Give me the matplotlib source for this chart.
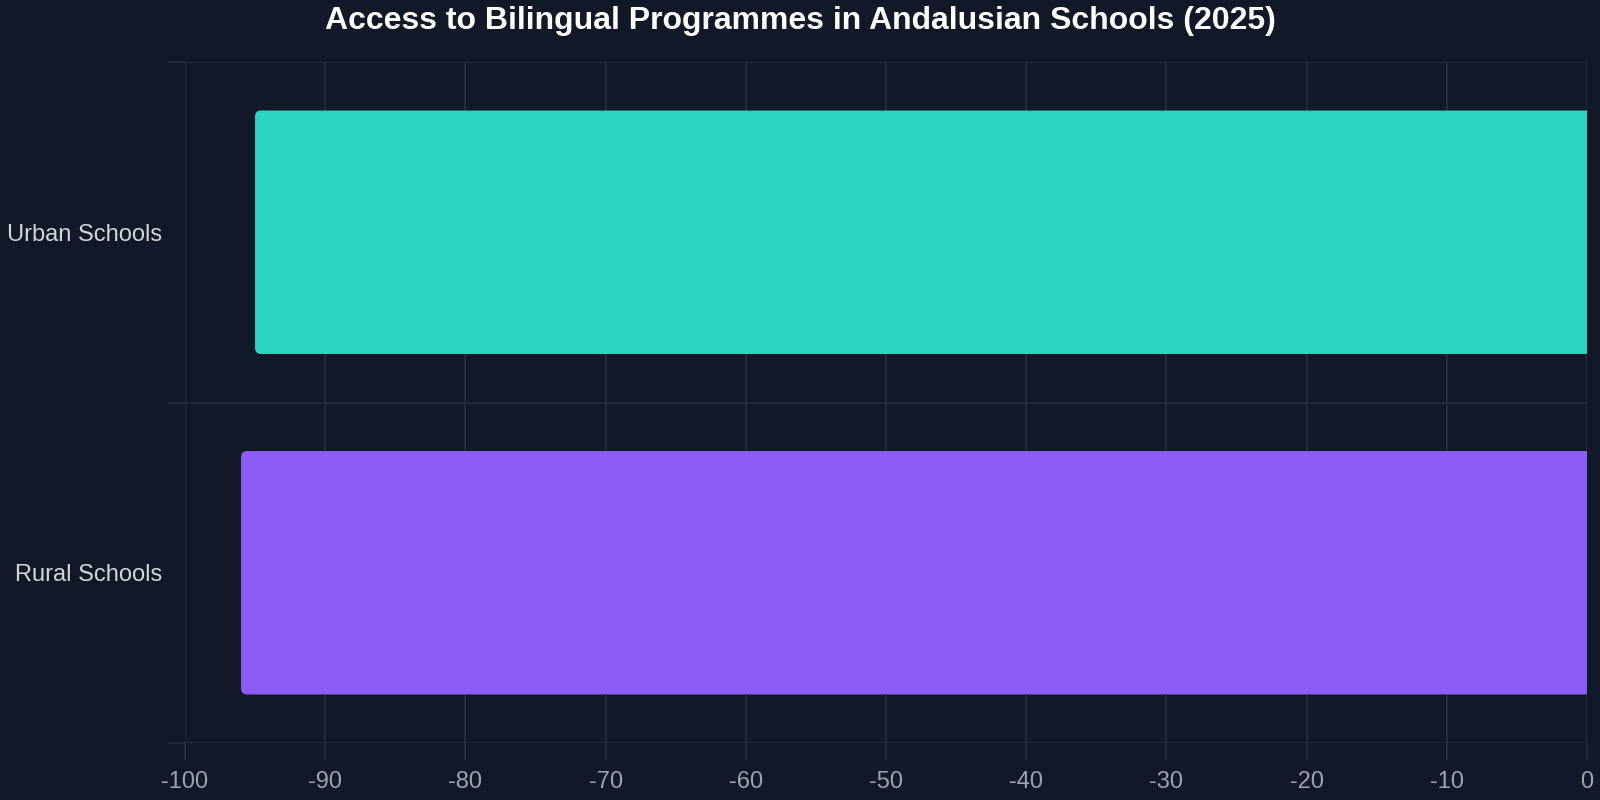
import matplotlib
matplotlib.use("Agg")
import matplotlib.pyplot as plt
from matplotlib.patches import FancyBboxPatch

# data
categories = ["Urban Schools", "Rural Schools"]
values = [-95, -96]
bar_colors = ["#2dd4bf", "#8b5cf6"]
xticks = list(range(-100, 1, 10))

BG = "#111827"
GRID = "#252d3b"

plt.rcParams['font.family'] = ['Liberation Sans', 'DejaVu Sans']

fig = plt.figure(figsize=(16, 8), dpi=100, facecolor=BG)
ax = fig.add_axes([0.1156, 0.07125, 0.8763, 0.85125], facecolor=BG)

xmin, xmax = -100, 0
ax.set_xlim(xmin, xmax)
ax.set_ylim(len(categories) - 0.5, -0.5)

# pixel sizes of one data unit, used to keep the corners round
ax_w = fig.get_figwidth() * fig.dpi * 0.8763
ax_h = fig.get_figheight() * fig.dpi * 0.85125
px_x = ax_w / (xmax - xmin)
px_y = ax_h / len(categories)
radius_px = 6

bar_h = 0.715
for i, (v, c) in enumerate(zip(values, bar_colors)):
    # box runs past zero so only the value end is rounded; axes clip the rest
    p = FancyBboxPatch((v, i - bar_h / 2), abs(v) + 2, bar_h,
                       boxstyle="round,pad=0,rounding_size=%f" % (radius_px / px_x),
                       mutation_aspect=px_x / px_y,
                       facecolor=c, edgecolor="none", zorder=3)
    ax.add_patch(p)

ax.set_xticks(xticks)
ax.set_xticklabels([str(t) for t in xticks])
ax.set_yticks(range(len(categories)))
ax.set_yticklabels(categories)

# grid: vertical at x ticks, horizontal at category boundaries
ax.set_yticks([i - 0.5 for i in range(len(categories) + 1)], minor=True)
ax.grid(True, axis="x", color=GRID, linewidth=1.3, zorder=0)
ax.grid(True, axis="y", which="minor", color=GRID, linewidth=1.3, zorder=0)

ax.tick_params(axis="x", which="major", length=12, width=1.3, color=GRID,
               labelcolor="#9ca3af", labelsize=17, pad=8)
ax.tick_params(axis="y", which="major", length=0, labelcolor="#d1d5db",
               labelsize=17, pad=16.5)
ax.tick_params(axis="y", which="minor", length=12, width=1.3, color=GRID)

for s in ax.spines.values():
    s.set_visible(False)

fig.text(0.5, 0.9634, "Access to Bilingual Programmes in Andalusian Schools (2025)",
         ha="center", va="baseline", color="white", fontsize=23, fontweight="bold")

fig.savefig("out.png", dpi=100, facecolor=BG)
